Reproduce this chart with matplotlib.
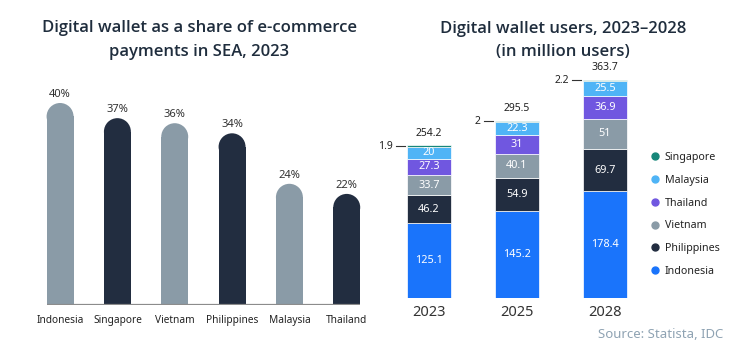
import matplotlib.pyplot as plt
from matplotlib.patches import Ellipse
from matplotlib.lines import Line2D
from matplotlib import font_manager
import numpy as np

plt.rcParams['font.family'] = ['Noto Sans', 'DejaVu Sans']

# left chart data
countries = ['Indonesia', 'Singapore', 'Vietnam', 'Philippines', 'Malaysia', 'Thailand']
share = [40, 37, 36, 34, 24, 22]

# right chart data
years = ['2023', '2025', '2028']
indonesia = [125.1, 145.2, 178.4]
philippines = [46.2, 54.9, 69.7]
vietnam = [33.7, 40.1, 51]
thailand = [27.3, 31, 36.9]
malaysia = [20, 22.3, 25.5]
singapore = [1.9, 2, 2.2]

GRAY = '#8a9ba7'
NAVY = '#222d40'
TITLE = '#1f2d3d'

# pick a family that really has a semibold face for the titles
fams = {}
for f in font_manager.fontManager.ttflist:
    fams.setdefault(f.name, set()).add(f.weight)
title_font = 'Noto Sans'
for cand in ['Open Sans', 'Noto Sans', 'Lato', 'Inter']:
    w = fams.get(cand, set())
    if any(isinstance(k, int) and 550 <= k <= 650 or k in ('semibold', 'demibold') for k in w):
        title_font = cand
        break
print(title_font, fams.get(title_font))
tkw = dict(fontsize=12, color=TITLE, fontweight=600, family=[title_font, 'DejaVu Sans'],
           ha='center', va='center')

W, H = 732, 350
fig = plt.figure(figsize=(7.32, 3.5), dpi=100)

# ---- left chart ----
ax = fig.add_axes([31.4 / W, 45 / H, 344 / W, 252.5 / H])
x = np.arange(len(countries))
bw = 0.47
px_per_unit = 252.5 / 50
r = (bw * 344 / 6) / 2 / px_per_unit  # radius of rounded top, in data units
for i, v in enumerate(share):
    c = GRAY if i % 2 == 0 else NAVY
    ax.bar(x[i], v - r, width=bw, color=c, edgecolor='none')
    ax.add_patch(Ellipse((x[i], v - r), bw, 2 * r, color=c, ec='none'))
    ax.text(x[i], v + 0.6, f'{v}%', ha='center', va='bottom', fontsize=8, color='#333333')
ax.hlines(0, x[0] - bw / 2, x[-1] + bw / 2, color='#8c8c8c', lw=1.6)
ax.set_xlim(-0.5, len(countries) - 0.5)
ax.set_ylim(0, 50)
ax.set_xticks(x)
ax.set_xticklabels(countries, fontsize=7.3, color='#222222')
ax.tick_params(length=0, pad=7)
ax.set_yticks([])
for s in ax.spines.values():
    s.set_visible(False)

fig.text(199 / W, 1 - 28 / H, 'Digital wallet as a share of e-commerce', **tkw)
fig.text(199 / W, 1 - 52 / H, 'payments in SEA, 2023', **tkw)

# ---- right chart ----
ax2 = fig.add_axes([385 / W, 52 / H, 264 / W, 240 / H])
xs = np.arange(len(years))
series = [('Indonesia', indonesia, '#1a74fb'),
          ('Philippines', philippines, '#222d40'),
          ('Vietnam', vietnam, '#8a9ba7'),
          ('Thailand', thailand, '#7057e0'),
          ('Malaysia', malaysia, '#4fb4f6'),
          ('Singapore', singapore, '#17877a')]
bottom = np.zeros(len(years))
for name, vals, col in series:
    vals = np.array(vals)
    ax2.bar(xs, vals, 0.5, bottom=bottom, color=col, edgecolor='white', lw=0.5)
    if name != 'Singapore':
        for j in range(len(years)):
            ax2.text(xs[j], bottom[j] + vals[j] / 2, f'{vals[j]:g}', ha='center',
                     va='center', fontsize=7.8, color='white')
    else:
        for j in range(len(years)):
            yy = bottom[j] + vals[j] / 2
            ax2.plot([xs[j] - 0.37, xs[j] - 0.27], [yy, yy], color='#333333', lw=0.8)
            ax2.text(xs[j] - 0.41, yy, f'{vals[j]:g}', ha='right', va='center',
                     fontsize=7.5, color='#222222')
    bottom = bottom + vals
for j in range(len(years)):
    ax2.text(xs[j], bottom[j] + 11, f'{bottom[j]:.1f}', ha='center', va='bottom',
             fontsize=7.5, color='#222222')
ax2.set_xlim(-0.5, len(years) - 0.5)
ax2.set_ylim(0, 400)
ax2.set_xticks(xs)
ax2.set_xticklabels(years, fontsize=10.5, color='#333333')
ax2.tick_params(length=0, pad=5)
ax2.set_yticks([])
for s in ax2.spines.values():
    s.set_visible(False)

handles = [Line2D([], [], marker='o', ls='none', color=col, markersize=5)
           for name, vals, col in series[::-1]]
labels = [name for name, vals, col in series[::-1]]
fig.legend(handles, labels, loc='upper left', bbox_to_anchor=(650 / W, 1 - 152 / H),
           frameon=False, fontsize=7.7, labelspacing=1.1, handletextpad=0.4,
           handlelength=1.0, borderaxespad=0, borderpad=0, labelcolor='#222222')

fig.text(563 / W, 1 - 29 / H, 'Digital wallet users, 2023\u20132028', **tkw)
fig.text(563 / W, 1 - 52 / H, '(in million users)', **tkw)
fig.text(723 / W, 1 - 334 / H, 'Source: Statista, IDC', ha='right', va='center',
         fontsize=9.5, color='#8fa3b3')

fig.savefig('out.png', dpi=100)
